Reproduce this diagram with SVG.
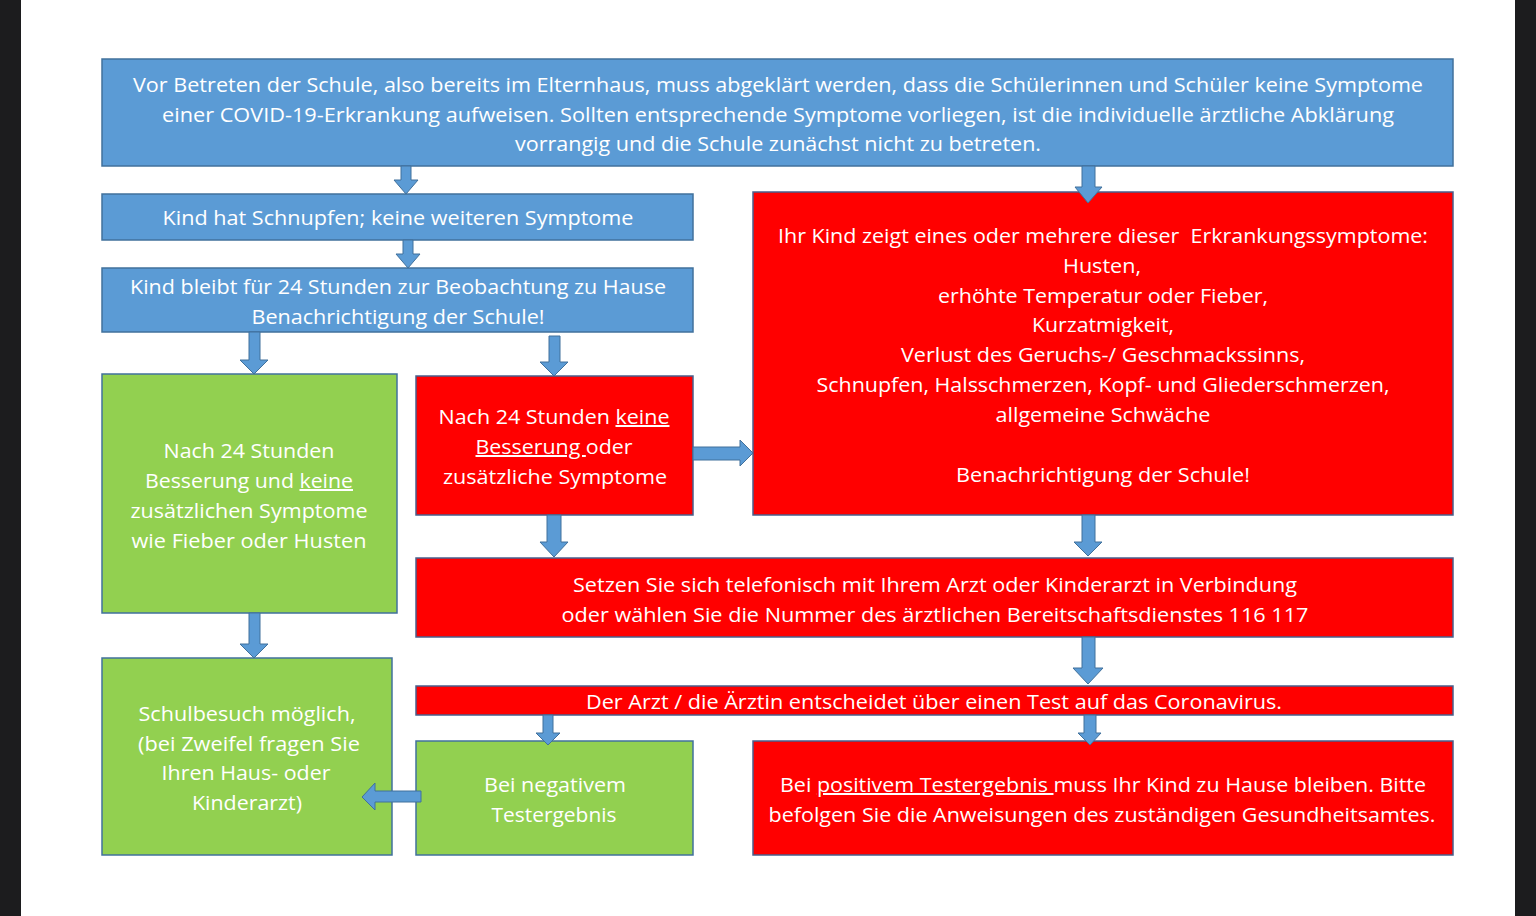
<svg xmlns="http://www.w3.org/2000/svg" width="1536" height="916" viewBox="0 0 1536 916">
<style>
.blue{fill:#5b9bd5;stroke:#41719c;stroke-width:1.5}
.red{fill:#ff0000;stroke:#4a5f8c;stroke-width:1.5}
.green{fill:#92d050;stroke:#41719c;stroke-width:1.5}
.arr{fill:#5b9bd5;stroke:#41719c;stroke-width:1}
text{font-family:"Open Sans","Noto Sans","Liberation Sans",sans-serif;font-size:20px;fill:#ffffff;text-anchor:middle}
.u{text-decoration:underline}
</style>
<rect x="0" y="0" width="1536" height="916" fill="#ffffff"/>
<rect x="0" y="0" width="21" height="916" fill="#1c1c1e"/>
<rect x="1515" y="0" width="21" height="916" fill="#1c1c1e"/>

<g id="top">
<rect class="blue" x="102" y="59" width="1351" height="107"/>
<text x="778" y="92" textLength="1290" lengthAdjust="spacingAndGlyphs">Vor Betreten der Schule, also bereits im Elternhaus, muss abgeklärt werden, dass die Schülerinnen und Schüler keine Symptome</text>
<text x="778" y="122" textLength="1232" lengthAdjust="spacingAndGlyphs">einer COVID-19-Erkrankung aufweisen. Sollten entsprechende Symptome vorliegen, ist die individuelle ärztliche Abklärung</text>
<text x="778" y="151" textLength="526" lengthAdjust="spacingAndGlyphs">vorrangig und die Schule zunächst nicht zu betreten.</text>
</g>

<g id="schnupfen">
<rect class="blue" x="102" y="194" width="591" height="46"/>
<text x="398" y="225" textLength="471" lengthAdjust="spacingAndGlyphs">Kind hat Schnupfen; keine weiteren Symptome</text>
</g>

<g id="beobachtung">
<rect class="blue" x="102" y="268" width="591" height="64"/>
<text x="398" y="294" textLength="536" lengthAdjust="spacingAndGlyphs">Kind bleibt für 24 Stunden zur Beobachtung zu Hause</text>
<text x="398" y="324" textLength="293" lengthAdjust="spacingAndGlyphs">Benachrichtigung der Schule!</text>
</g>

<g id="symptome">
<rect class="red" x="753" y="192" width="700" height="323"/>
<text x="1103" y="243" textLength="650" lengthAdjust="spacingAndGlyphs" xml:space="preserve">Ihr Kind zeigt eines oder mehrere dieser  Erkrankungssymptome:</text>
<text x="1102" y="273" textLength="78" lengthAdjust="spacingAndGlyphs">Husten,</text>
<text x="1103" y="303" textLength="330" lengthAdjust="spacingAndGlyphs">erhöhte Temperatur oder Fieber,</text>
<text x="1103" y="332" textLength="142" lengthAdjust="spacingAndGlyphs">Kurzatmigkeit,</text>
<text x="1103" y="362" textLength="404" lengthAdjust="spacingAndGlyphs">Verlust des Geruchs-/ Geschmackssinns,</text>
<text x="1103" y="392" textLength="573" lengthAdjust="spacingAndGlyphs">Schnupfen, Halsschmerzen, Kopf- und Gliederschmerzen,</text>
<text x="1103" y="422" textLength="215" lengthAdjust="spacingAndGlyphs">allgemeine Schwäche</text>
<text x="1103" y="482" textLength="294" lengthAdjust="spacingAndGlyphs">Benachrichtigung der Schule!</text>
</g>

<g id="besserung">
<rect class="green" x="102" y="374" width="295" height="239"/>
<text x="249" y="458" textLength="171" lengthAdjust="spacingAndGlyphs">Nach 24 Stunden</text>
<text x="249" y="488" textLength="208" lengthAdjust="spacingAndGlyphs">Besserung und <tspan class="u">keine</tspan></text>
<text x="249" y="518" textLength="237" lengthAdjust="spacingAndGlyphs">zusätzlichen Symptome</text>
<text x="249" y="548" textLength="235" lengthAdjust="spacingAndGlyphs">wie Fieber oder Husten</text>
</g>

<g id="keinebesserung">
<rect class="red" x="416" y="376" width="277" height="139"/>
<text x="554" y="424" textLength="231" lengthAdjust="spacingAndGlyphs">Nach 24 Stunden <tspan class="u">keine</tspan></text>
<text x="554" y="454" textLength="157" lengthAdjust="spacingAndGlyphs"><tspan class="u">Besserung </tspan>oder</text>
<text x="555" y="484" textLength="224" lengthAdjust="spacingAndGlyphs">zusätzliche Symptome</text>
</g>

<g id="arzt">
<rect class="red" x="416" y="558" width="1037" height="79"/>
<text x="935" y="592" textLength="724" lengthAdjust="spacingAndGlyphs">Setzen Sie sich telefonisch mit Ihrem Arzt oder Kinderarzt in Verbindung</text>
<text x="935" y="622" textLength="747" lengthAdjust="spacingAndGlyphs">oder wählen Sie die Nummer des ärztlichen Bereitschaftsdienstes 116 117</text>
</g>

<g id="test">
<rect class="red" x="416" y="686" width="1037" height="29"/>
<text x="934" y="709" textLength="696" lengthAdjust="spacingAndGlyphs">Der Arzt / die Ärztin entscheidet über einen Test auf das Coronavirus.</text>
</g>

<g id="schulbesuch">
<rect class="green" x="102" y="658" width="290" height="197"/>
<text x="247" y="721" textLength="217" lengthAdjust="spacingAndGlyphs">Schulbesuch möglich,</text>
<text x="249" y="751" textLength="222" lengthAdjust="spacingAndGlyphs">(bei Zweifel fragen Sie</text>
<text x="246" y="780" textLength="169" lengthAdjust="spacingAndGlyphs">Ihren Haus- oder</text>
<text x="247" y="810" textLength="110" lengthAdjust="spacingAndGlyphs">Kinderarzt)</text>
</g>

<g id="negativ">
<rect class="green" x="416" y="741" width="277" height="114"/>
<text x="555" y="792" textLength="142" lengthAdjust="spacingAndGlyphs">Bei negativem</text>
<text x="554" y="822" textLength="125" lengthAdjust="spacingAndGlyphs">Testergebnis</text>
</g>

<g id="positiv">
<rect class="red" x="753" y="741" width="700" height="114"/>
<text x="1103" y="792" textLength="646" lengthAdjust="spacingAndGlyphs">Bei <tspan class="u">positivem Testergebnis </tspan>muss Ihr Kind zu Hause bleiben. Bitte</text>
<text x="1102" y="822" textLength="667" lengthAdjust="spacingAndGlyphs">befolgen Sie die Anweisungen des zuständigen Gesundheitsamtes.</text>
</g>

<g id="connectors">
<polygon class="arr" points="401,166 411,166 411,180 418,180 406,194 394,180 401,180"/>
<polygon class="arr" points="1082,166 1095,166 1095,187 1102,187 1088,203 1075,187 1082,187"/>
<polygon class="arr" points="403,240 413,240 413,254 420,254 408,268 396,254 403,254"/>
<polygon class="arr" points="249,332 260,332 260,360 268,360 254,374 240,360 249,360"/>
<polygon class="arr" points="549,336 560,336 560,362 568,362 554,376 540,362 549,362"/>
<polygon class="arr" points="693,447 740,447 740,440 753,453 740,466 740,460 693,460"/>
<polygon class="arr" points="547,515 561,515 561,542 568,542 554,557 540,542 547,542"/>
<polygon class="arr" points="1082,515 1095,515 1095,542 1102,542 1088,556 1074,542 1082,542"/>
<polygon class="arr" points="249,613 260,613 260,644 268,644 254,658 240,644 249,644"/>
<polygon class="arr" points="1082,637 1095,637 1095,668 1103,668 1088,684 1073,668 1082,668"/>
<polygon class="arr" points="543,715 553,715 553,733 560,733 548,745 536,733 543,733"/>
<polygon class="arr" points="1084,715 1096,715 1096,733 1101,733 1090,745 1078,733 1084,733"/>
<polygon class="arr" points="421,791 375,791 375,783 362,797 375,810 375,802 421,802"/>
</g>
</svg>
